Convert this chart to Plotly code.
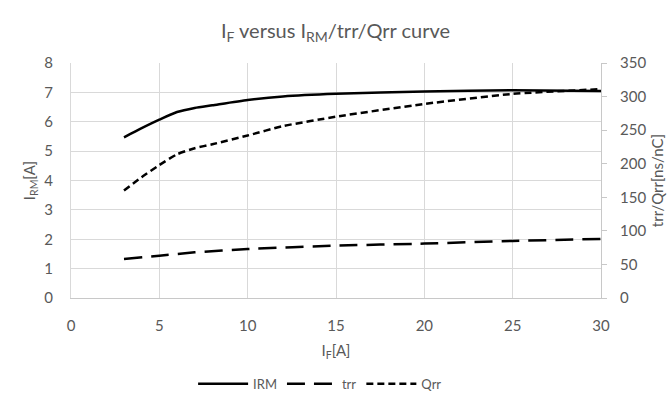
import plotly.graph_objects as go

# Data
if_irm = [3, 4, 5, 6, 7, 8, 10, 12, 15, 20, 25, 30]
irm = [5.47, 5.78, 6.07, 6.33, 6.47, 6.56, 6.74, 6.86, 6.95, 7.03, 7.07, 7.05]

if_trr = [3, 5, 7, 10, 15, 20, 25, 30]
trr = [58, 63, 68, 73, 78, 81, 85, 88]

if_qrr = [3, 4, 5, 6, 7, 8, 10, 12, 15, 20, 25, 30]
qrr = [160, 180, 198, 214, 223, 229, 242, 256, 270, 289, 304, 311]

x_ticks = [0, 5, 10, 15, 20, 25, 30]
y_left_ticks = [0, 1, 2, 3, 4, 5, 6, 7, 8]
y_right_ticks = [0, 50, 100, 150, 200, 250, 300, 350]

grey = "#595959"
grid = "#d9d9d9"
font_family = "Lato, 'Open Sans', sans-serif"

fig = go.Figure()
fig.add_trace(go.Scatter(x=if_irm, y=irm, name="IRM", mode="lines",
                         line=dict(color="black", width=2.5, shape="spline", smoothing=0.6)))
fig.add_trace(go.Scatter(x=if_trr, y=trr, name="trr", mode="lines", yaxis="y2",
                         line=dict(color="black", width=2.5, dash="18px,9px", shape="spline", smoothing=0.6)))
fig.add_trace(go.Scatter(x=if_qrr, y=qrr, name="Qrr", mode="lines", yaxis="y2",
                         line=dict(color="black", width=2.5, dash="7px,4px", shape="spline", smoothing=0.6)))

fig.update_layout(
    width=671, height=417,
    margin=dict(l=71, r=70, t=63, b=119),
    paper_bgcolor="white", plot_bgcolor="white",
    font=dict(family=font_family, color=grey, size=15),
    title=dict(text="I<sub>F</sub> versus I<sub>RM</sub>/trr/Qrr curve",
               x=0.5, xanchor="center", y=0.925, yanchor="middle",
               font=dict(size=20, color=grey, family=font_family)),
    xaxis=dict(range=[0, 30], tickvals=x_ticks, showgrid=True, gridcolor=grid, gridwidth=1,
               zeroline=False, showline=True, linecolor="#c8c8c8", mirror=False,
               ticks="", ticklabelstandoff=14, automargin=False,
               tickfont=dict(size=15),
               title=dict(text="I<sub>F</sub>[A]", font=dict(size=15), standoff=12)),
    yaxis=dict(range=[0, 8], tickvals=y_left_ticks, showgrid=True, gridcolor=grid, gridwidth=1,
               zeroline=False, showline=True, linecolor=grid, ticks="", ticklabelstandoff=14,
               automargin=False, tickfont=dict(size=15),
               title=dict(text="I<sub>RM</sub>[A]", font=dict(size=15), standoff=5)),
    yaxis2=dict(range=[0, 350], tickvals=y_right_ticks, overlaying="y", side="right",
                showgrid=False, zeroline=False, showline=True, linecolor="#c8c8c8",
                ticks="outside", ticklen=5, tickcolor="#c8c8c8", ticklabelstandoff=10,
                automargin=False, tickfont=dict(size=15),
                title=dict(text="trr/Qrr[ns/nC]", font=dict(size=15), standoff=7)),
    legend=dict(orientation="h", x=0.47, xanchor="center", y=-0.365, yanchor="middle",
                font=dict(size=13, color=grey), itemwidth=50, bgcolor="rgba(0,0,0,0)"),
    showlegend=True,
)

fig.write_html("out.html")
